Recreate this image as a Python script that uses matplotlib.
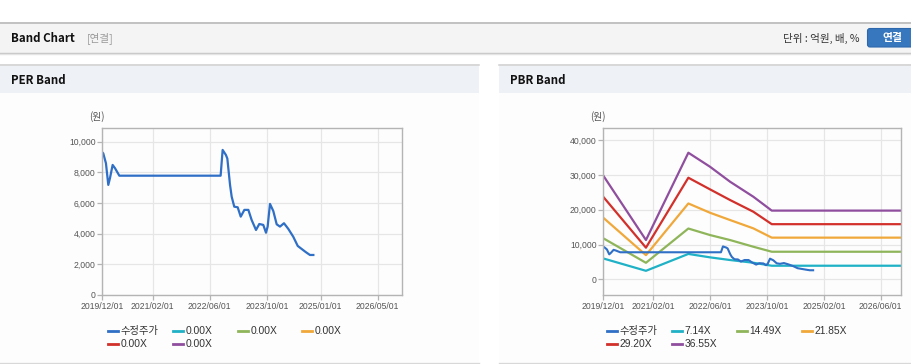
import numpy as np
import matplotlib
matplotlib.use("Agg")
import matplotlib.pyplot as plt
from matplotlib.patches import Rectangle, FancyBboxPatch
from matplotlib.lines import Line2D

plt.rcParams['font.family'] = ['Liberation Sans', 'Noto Sans CJK KR', 'DejaVu Sans']

# ---------------- data ----------------
price_dates = ['2019-12-01', '2019-12-09', '2020-01-01', '2020-01-21', '2020-02-04', '2020-02-27',
               '2020-03-18', '2020-04-24', '2022-09-03', '2022-09-20', '2022-10-18', '2022-10-30',
               '2022-11-22', '2022-12-06', '2022-12-28', '2023-01-26', '2023-02-21', '2023-03-24',
               '2023-04-27', '2023-05-25', '2023-07-01', '2023-07-29', '2023-09-01', '2023-09-24',
               '2023-10-08', '2023-10-28', '2023-11-25', '2023-12-24', '2024-01-21', '2024-02-24',
               '2024-04-01', '2024-05-13', '2024-06-20', '2024-07-24', '2024-08-29', '2024-10-02',
               '2024-10-31']
price_values = [9300, 9240, 8590, 7180, 7610, 8480, 8270, 7780, 7780, 9460, 9130, 8900,
                7180, 6410, 5760, 5720, 5110, 5550, 5550, 4890, 4240, 4630, 4570, 4060,
                4460, 5940, 5480, 4610, 4460, 4680, 4310, 3800, 3200, 3000, 2790, 2610,
                2610]

band_dates = ['2019-12-01', '2020-11-30', '2021-11-28', '2022-06-01', '2022-11-20',
              '2023-06-07', '2023-11-12', '2026-12-01']
pbr_7_14 = [6000, 2450, 7300, 6320, 5550, 4770, 3910, 3910]
pbr_14_49 = [11800, 4750, 14600, 12730, 11290, 9370, 7930, 7930]
pbr_21_85 = [17700, 6950, 21800, 19140, 17040, 14650, 11980, 11980]
pbr_29_20 = [23700, 9100, 29200, 25860, 22790, 19430, 15850, 15850]
pbr_36_55 = [29800, 11300, 36380, 32360, 28050, 23740, 19750, 19750]

per_labels = ['수정주가', '0.00X', '0.00X', '0.00X', '0.00X', '0.00X']
pbr_labels = ['수정주가', '7.14X', '14.49X', '21.85X', '29.20X', '36.55X']

per_xticks = ['2019-12-01', '2021-02-01', '2022-06-01', '2023-10-01', '2025-01-01', '2026-05-01']
per_xticklabels = ['2019/12/01', '2021/02/01', '2022/06/01', '2023/10/01', '2025/01/01', '2026/05/01']
pbr_xticks = ['2019-12-01', '2021-02-01', '2022-06-01', '2023-10-01', '2025-02-01', '2026-06-01']
pbr_xticklabels = ['2019/12/01', '2021/02/01', '2022/06/01', '2023/10/01', '2025/02/01', '2026/06/01']
per_yticks = [0, 2000, 4000, 6000, 8000, 10000]
pbr_yticks = [0, 10000, 20000, 30000, 40000]

colors = ['#2f6fc6', '#1fb1c6', '#8fb55a', '#f0a83a', '#d2302b', '#8f4e9e']

# ---------------- figure ----------------
W, H = 912, 364
fig = plt.figure(figsize=(W / 100, H / 100), dpi=100)
fig.patch.set_facecolor('white')

bg = fig.add_axes([0, 0, 1, 1], zorder=-5)
bg.set_xlim(0, W)
bg.set_ylim(H, 0)
bg.axis('off')

KR = ['Noto Sans CJK KR', 'DejaVu Sans']

# top header bar
bg.add_patch(Rectangle((0, 22), W, 30.5, fc='#f4f4f4', ec='none'))
bg.plot([0, W], [22.5, 22.5], color='#b8b8b8', lw=1.2)
bg.plot([0, W], [52.5, 52.5], color='#c4c4c4', lw=1.0)
bg.plot([0, W], [53.5, 53.5], color='#e4e4e4', lw=1.0)
bg.text(11, 38.5, 'Band Chart', fontsize=8.3, fontweight='bold', color='#111111',
        va='center', ha='left', family=KR)
bg.text(87, 38.5, '[연결]', fontsize=7.6, color='#9a9a9a', va='center', ha='left', family=KR)
bg.text(860, 38.5, '단위 : 억원, 배, %', fontsize=7.6, color='#333333', va='center',
        ha='right', family=KR)
bg.add_patch(FancyBboxPatch((867.5, 28.5), 50, 18.5, boxstyle='round,pad=0,rounding_size=2.5',
                            fc='#3777be', ec='#2d68ad', lw=0.8))
bg.text(892, 38.2, '연결', fontsize=7.8, fontweight='bold', color='white', va='center',
        ha='center', family=KR)

# panels
for (x0, x1, title) in [(0, 479, 'PER Band'), (499, W, 'PBR Band')]:
    bg.add_patch(Rectangle((x0, 64), x1 - x0, 298, fc='#fdfdfd', ec='none'))
    bg.add_patch(Rectangle((x0, 64), x1 - x0, 28.5, fc='#eef1f6', ec='none'))
    bg.plot([x0, x1], [64.5, 64.5], color='#d4d4d4', lw=1.2)
    bg.plot([x0, x1], [362.5, 362.5], color='#d8d8d8', lw=1.0)
    bg.text(x0 + 11.5, 80.5, title, fontsize=8.3, fontweight='bold', color='#111111',
            va='center', ha='left', family=KR)


def to_dt(lst):
    return np.array(lst, dtype='datetime64[D]')


def style_axes(ax, xticks, xticklabels, yticks, ylim, xend):
    ax.set_facecolor('none')
    ax.set_xlim(np.datetime64('2019-12-01'), np.datetime64(xend))
    ax.set_ylim(*ylim)
    ax.set_xticks(to_dt(xticks))
    ax.set_xticklabels(xticklabels)
    ax.set_yticks(yticks)
    ax.set_yticklabels([f'{v:,}' for v in yticks])
    ax.grid(True, color='#e6e6e6', lw=0.9)
    ax.set_axisbelow(True)
    for s in ax.spines.values():
        s.set_color('#b4b4b4')
        s.set_linewidth(1.0)
    ax.tick_params(axis='both', colors='#b4b4b4', labelcolor='#555555', labelsize=6.2,
                   length=3.3, width=0.9, pad=1.5)


def px_axes(x0, y0, x1, y1):
    return fig.add_axes([x0 / W, 1 - y1 / H, (x1 - x0) / W, (y1 - y0) / H])


# PER chart
ax1 = px_axes(102.3, 128, 402.3, 295)
style_axes(ax1, per_xticks, per_xticklabels, per_yticks, (0, 10890), '2026-11-27')
ax1.plot(to_dt(price_dates), price_values, color=colors[0], lw=1.6, solid_joinstyle='round')
bg.text(97, 117, '(원)', fontsize=7, color='#555555', ha='center', va='center', family=KR)

# PBR chart
ax2 = px_axes(603.3, 128.3, 901, 295)
style_axes(ax2, pbr_xticks, pbr_xticklabels, pbr_yticks, (-4500, 43400), '2026-11-22')
bd = to_dt(band_dates)
for vals, c in zip([pbr_7_14, pbr_14_49, pbr_21_85, pbr_29_20, pbr_36_55], colors[1:]):
    ax2.plot(bd, vals, color=c, lw=1.6, solid_joinstyle='round')
ax2.plot(to_dt(price_dates), price_values, color=colors[0], lw=1.5, solid_joinstyle='round')
bg.text(598, 117, '(원)', fontsize=7, color='#555555', ha='center', va='center', family=KR)


# legends (manual placement)
def draw_legend(labels, cols, rows):
    pos = [(cols[0], rows[0]), (cols[1], rows[0]), (cols[2], rows[0]), (cols[3], rows[0]),
           (cols[0], rows[1]), (cols[1], rows[1])]
    for (x, y), lab, c in zip(pos, labels, colors):
        bg.add_line(Line2D([x, x + 10], [y, y], color=c, lw=2.0))
        bg.text(x + 12.5, y + 0.3, lab, fontsize=7.4, color='#333333', va='center', ha='left',
                family=['Liberation Sans', 'Noto Sans CJK KR'])


draw_legend(per_labels, [108, 173, 238, 302], [330.5, 343.5])
draw_legend(pbr_labels, [607, 672, 737, 802], [330.5, 343.5])

fig.savefig('out.png', dpi=100, facecolor='white')
